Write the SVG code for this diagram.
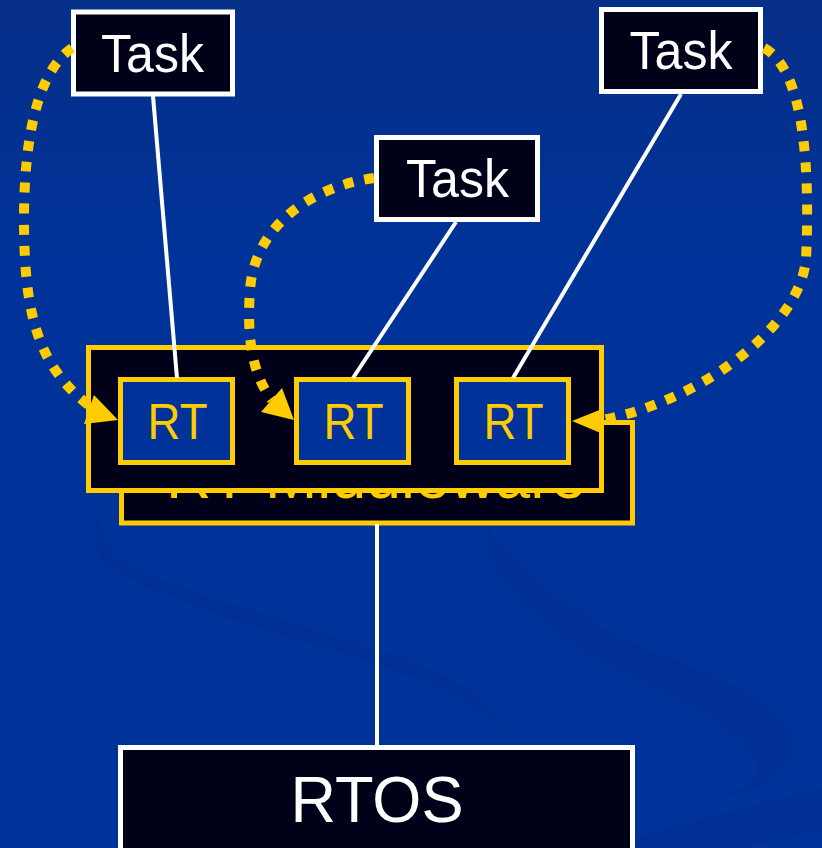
<svg xmlns="http://www.w3.org/2000/svg" width="822" height="848" viewBox="0 0 822 848">
  <defs>
    <linearGradient id="bg" x1="0" y1="0" x2="0" y2="1">
      <stop offset="0" stop-color="#062f88"/>
      <stop offset="0.3" stop-color="#003399"/>
      <stop offset="1" stop-color="#003399"/>
    </linearGradient>
    <style>
      .task rect { fill: #000018; stroke: #ffffff; stroke-width: 5; }
      .task text { fill: #ffffff; font-family: "Liberation Sans", Arial, sans-serif; font-size: 54px; text-anchor: middle; }
      .rt rect { fill: #003399; stroke: #ffcc00; stroke-width: 5; }
      .rt text { fill: #ffcc00; font-family: "Liberation Sans", Arial, sans-serif; font-size: 50px; text-anchor: middle; }
      .mw { fill: #000018; stroke: #ffcc00; stroke-width: 5; }
      .wire { stroke: #ffffff; stroke-width: 4; fill: none; }
      .dot { stroke: #ffcc00; stroke-width: 10; fill: none; stroke-dasharray: 10 11; }
      .head { fill: #ffcc00; }
      .swirl { fill: #002a88; opacity: 0.3; }
    </style>
  </defs>

  <rect x="0" y="0" width="822" height="848" fill="url(#bg)"/>
  <g id="background-swirls">
    <path class="swirl" d="M 104 500 C 85 530 90 560 127 578 C 200 612 300 640 373 663 C 430 680 480 700 506 740 C 490 690 440 670 380 650 C 290 620 170 590 120 560 C 100 545 98 520 104 500 Z"/>
    <path class="swirl" d="M 487 527 C 505 560 560 600 624 640 C 700 670 790 700 793 745 C 790 785 740 795 700 803 C 760 785 770 770 747 750 C 720 715 660 690 600 660 C 530 620 480 570 487 527 Z"/>
    <path class="swirl" d="M 633 838 C 700 820 770 800 822 788 L 822 830 C 790 838 760 844 737 848 L 620 848 Z"/>
  </g>

  <g id="middleware-back">
    <rect class="mw" x="121.5" y="422.5" width="511" height="100.5"/>
    <text x="376" y="498" fill="#ffcc00" font-family="Liberation Sans, Arial, sans-serif" font-size="64" text-anchor="middle" textLength="420" lengthAdjust="spacingAndGlyphs">RT Middleware</text>
  </g>

  <g id="connectors-lower">
    <line class="wire" x1="377" y1="524" x2="377" y2="746"/>
  </g>

  <g id="rtos" class="task">
    <rect x="120.5" y="747.5" width="512" height="120"/>
    <text x="377" y="822" textLength="173" lengthAdjust="spacingAndGlyphs" style="font-size:65px">RTOS</text>
  </g>

  <g id="middleware-front">
    <rect class="mw" x="88.5" y="347.5" width="513" height="143"/>
  </g>

  <g id="rt1" class="rt">
    <rect x="120.5" y="379.5" width="112" height="83"/>
    <text x="177.5" y="439" textLength="60" lengthAdjust="spacingAndGlyphs">RT</text>
  </g>
  <g id="rt2" class="rt">
    <rect x="296.5" y="379.5" width="112" height="83"/>
    <text x="353.5" y="439" textLength="60" lengthAdjust="spacingAndGlyphs">RT</text>
  </g>
  <g id="rt3" class="rt">
    <rect x="456.5" y="379.5" width="112" height="83"/>
    <text x="513.5" y="439" textLength="60" lengthAdjust="spacingAndGlyphs">RT</text>
  </g>

  <g id="task1" class="task">
    <rect x="73.5" y="12" width="159" height="82"/>
    <text x="152.5" y="72" textLength="103" lengthAdjust="spacingAndGlyphs">Task</text>
  </g>
  <g id="task2" class="task">
    <rect x="601.5" y="9.5" width="159" height="82"/>
    <text x="681" y="69" textLength="103" lengthAdjust="spacingAndGlyphs">Task</text>
  </g>
  <g id="task3" class="task">
    <rect x="376.5" y="137.5" width="161" height="82"/>
    <text x="457.5" y="197" textLength="103" lengthAdjust="spacingAndGlyphs">Task</text>
  </g>

  <g id="connectors">
    <line class="wire" x1="153" y1="96" x2="177" y2="378"/>
    <line class="wire" x1="456" y1="222" x2="353" y2="378"/>
    <line class="wire" x1="681" y1="94" x2="513" y2="378"/>
    <path class="dot" d="M 72 48 C 40 70, 24 130, 24 220 C 24 320, 40 370, 95 410"/>
    <polygon class="head" points="94,395 118,420 84,424"/>
    <path class="dot" d="M 374 178 C 320 185, 255 220, 250 290 C 246 345, 255 378, 272 400"/>
    <polygon class="head" points="282,388 294,420 261,412"/>
    <path class="dot" d="M 764 48 C 805 70, 810 170, 806 260 C 798 330, 700 400, 603 420"/>
    <polygon class="head" points="572,421 602,409 603,434"/>
  </g>
</svg>
